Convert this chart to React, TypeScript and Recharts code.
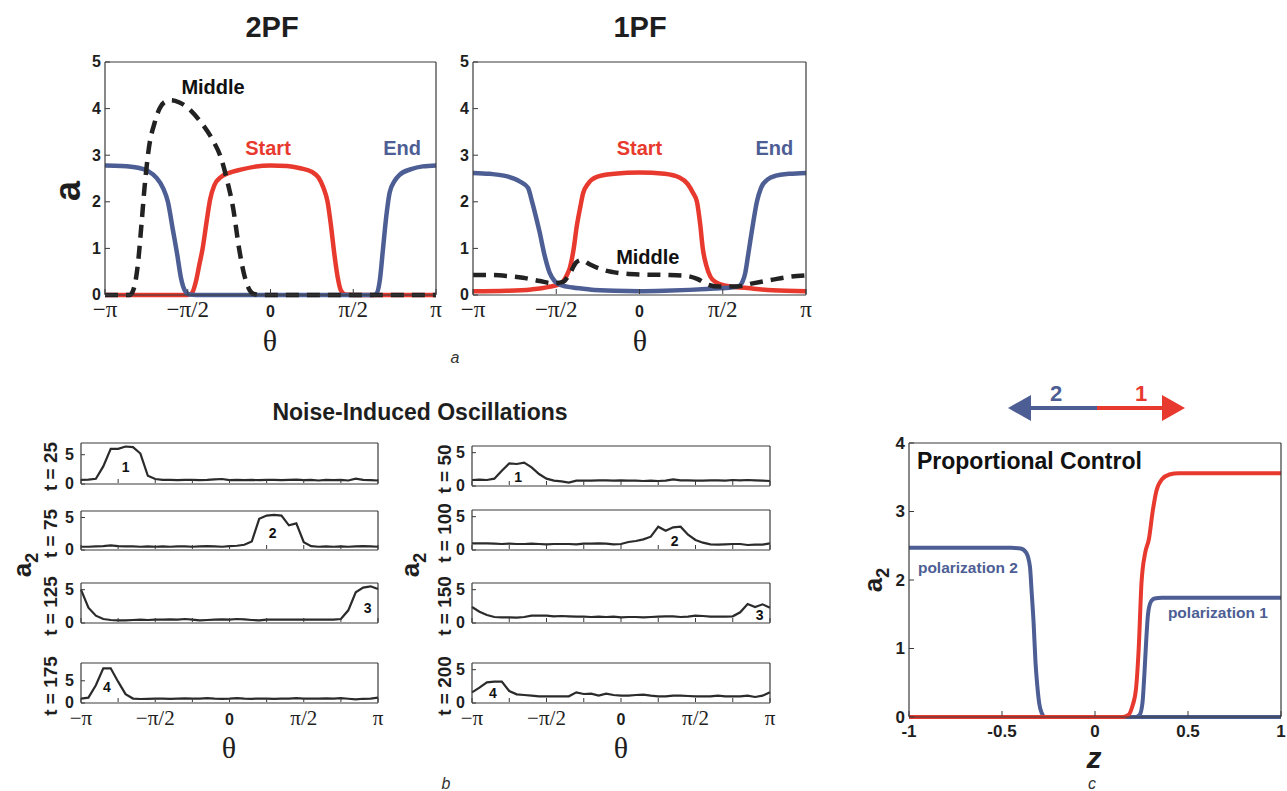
import React from "react";
import { LineChart, Line, XAxis, YAxis, ReferenceDot } from "recharts";

const RED = "#e8392e";
const BLUE = "#4d5e94";
const INK = "#1e1e1e";
const AXIS = "#3a3a3a";
const SANS = '"Liberation Sans", Arial, sans-serif';
const SERIF = '"Liberation Serif", "Times New Roman", serif';

// ---- panel a : a(theta), theta in units of pi ----
const pf2Start = [[-1, 0], [-0.5, 0], [-0.475, 0.04], [-0.45, 0.3], [-0.43, 0.65], [-0.41, 1.0], [-0.385, 1.6], [-0.365, 2.05], [-0.34, 2.35], [-0.3, 2.53], [-0.25, 2.62], [-0.18, 2.69], [-0.1, 2.75], [0, 2.78], [0.1, 2.77], [0.18, 2.72], [0.25, 2.64], [0.29, 2.52], [0.32, 2.3], [0.345, 2.0], [0.365, 1.5], [0.385, 0.9], [0.405, 0.4], [0.425, 0.1], [0.45, 0.01], [0.5, 0], [1, 0]];
const pf2End = [[-1, 2.78], [-0.9, 2.77], [-0.8, 2.73], [-0.74, 2.66], [-0.69, 2.52], [-0.65, 2.3], [-0.62, 2.0], [-0.59, 1.4], [-0.565, 0.9], [-0.54, 0.35], [-0.515, 0.08], [-0.49, 0.01], [-0.45, 0], [0.62, 0], [0.64, 0.03], [0.66, 0.3], [0.68, 1.0], [0.7, 1.7], [0.72, 2.2], [0.75, 2.45], [0.78, 2.58], [0.85, 2.7], [0.92, 2.76], [1, 2.78]];
const pf2Middle = [[-1, 0], [-0.85, 0], [-0.825, 0.15], [-0.8, 0.7], [-0.78, 1.5], [-0.76, 2.35], [-0.735, 3.15], [-0.7, 3.7], [-0.67, 4.0], [-0.64, 4.14], [-0.6, 4.18], [-0.55, 4.13], [-0.5, 4.02], [-0.43, 3.75], [-0.35, 3.33], [-0.3, 2.95], [-0.265, 2.5], [-0.225, 1.85], [-0.19, 1.0], [-0.16, 0.45], [-0.125, 0.1], [-0.1, 0.02], [-0.05, 0], [1, 0]];

const pf1Start = [[-1, 0.08], [-0.8, 0.09], [-0.65, 0.12], [-0.55, 0.17], [-0.47, 0.25], [-0.44, 0.4], [-0.417, 0.6], [-0.395, 1.0], [-0.377, 1.47], [-0.355, 1.9], [-0.339, 2.18], [-0.31, 2.38], [-0.26, 2.53], [-0.15, 2.6], [0, 2.63], [0.15, 2.6], [0.24, 2.52], [0.29, 2.38], [0.32, 2.2], [0.345, 2.0], [0.365, 1.5], [0.38, 1.0], [0.4, 0.65], [0.425, 0.4], [0.46, 0.27], [0.52, 0.2], [0.65, 0.15], [0.8, 0.1], [1, 0.08]];
const pf1End = [[-1, 2.62], [-0.9, 2.6], [-0.8, 2.55], [-0.72, 2.44], [-0.67, 2.3], [-0.645, 2.0], [-0.62, 1.65], [-0.6, 1.35], [-0.57, 0.85], [-0.54, 0.48], [-0.51, 0.3], [-0.47, 0.21], [-0.4, 0.16], [-0.3, 0.12], [-0.15, 0.09], [0, 0.08], [0.15, 0.09], [0.3, 0.11], [0.45, 0.14], [0.55, 0.16], [0.6, 0.2], [0.62, 0.3], [0.635, 0.47], [0.65, 0.8], [0.665, 1.15], [0.685, 1.6], [0.705, 2.0], [0.73, 2.3], [0.77, 2.48], [0.82, 2.56], [0.9, 2.6], [1, 2.62]];
const pf1Middle = [[-1, 0.43], [-0.9, 0.43], [-0.8, 0.41], [-0.7, 0.37], [-0.6, 0.3], [-0.52, 0.25], [-0.46, 0.28], [-0.42, 0.45], [-0.38, 0.7], [-0.35, 0.75], [-0.3, 0.66], [-0.22, 0.54], [-0.12, 0.47], [0, 0.44], [0.15, 0.43], [0.28, 0.41], [0.35, 0.34], [0.4, 0.24], [0.48, 0.18], [0.58, 0.18], [0.68, 0.25], [0.8, 0.33], [0.9, 0.39], [1, 0.42]];

// ---- panel b : noise-induced oscillations, a2 on a theta grid (units of pi) ----
const thetaGrid = [-1, -0.95, -0.9, -0.85, -0.8, -0.75, -0.7, -0.65, -0.6, -0.55, -0.5, -0.45, -0.4, -0.35, -0.3, -0.25, -0.2, -0.15, -0.1, -0.05, 0, 0.05, 0.1, 0.15, 0.2, 0.25, 0.3, 0.35, 0.4, 0.45, 0.5, 0.55, 0.6, 0.65, 0.7, 0.75, 0.8, 0.85, 0.9, 0.95, 1];
const noiseT25 = [0.7, 0.75, 0.9, 3.0, 6.0, 6.0, 6.4, 6.3, 5.2, 1.4, 0.85, 0.7, 0.7, 0.65, 0.7, 0.7, 0.65, 0.7, 0.8, 0.85, 0.65, 0.7, 0.65, 0.7, 0.65, 0.7, 0.7, 0.65, 0.7, 0.75, 0.65, 0.7, 0.6, 0.7, 0.65, 0.7, 0.6, 0.9, 0.7, 0.65, 0.6];
const noiseT75 = [0.5, 0.5, 0.55, 0.6, 0.7, 0.6, 0.55, 0.55, 0.5, 0.55, 0.5, 0.55, 0.5, 0.55, 0.55, 0.5, 0.55, 0.6, 0.55, 0.5, 0.6, 0.65, 0.8, 1.3, 4.8, 5.3, 5.4, 5.3, 3.8, 4.1, 1.2, 0.6, 0.5, 0.55, 0.5, 0.55, 0.5, 0.55, 0.6, 0.55, 0.5];
const noiseT125 = [5.0, 2.3, 1.1, 0.6, 0.45, 0.4, 0.4, 0.45, 0.5, 0.45, 0.5, 0.5, 0.55, 0.5, 0.6, 0.5, 0.4, 0.45, 0.5, 0.55, 0.5, 0.6, 0.55, 0.45, 0.4, 0.5, 0.5, 0.5, 0.5, 0.5, 0.5, 0.5, 0.5, 0.5, 0.5, 0.6, 1.9, 4.6, 5.3, 5.5, 5.1];
const noiseT175 = [1.0, 1.2, 4.0, 7.8, 7.8, 4.8, 2.0, 1.0, 0.9, 0.95, 1.0, 1.0, 0.95, 1.0, 1.05, 1.0, 1.0, 1.1, 1.0, 0.95, 1.0, 1.1, 1.0, 0.95, 1.0, 1.0, 0.95, 1.0, 1.0, 1.1, 1.0, 1.0, 1.0, 1.05, 1.0, 1.1, 0.95, 0.8, 0.95, 1.0, 1.2];
const noiseT50 = [0.9, 0.95, 0.9, 1.1, 2.3, 3.4, 3.3, 3.5, 2.8, 1.8, 1.1, 0.8, 0.7, 0.5, 0.8, 0.8, 0.8, 0.85, 0.85, 0.8, 0.85, 0.8, 0.8, 0.75, 0.8, 0.75, 0.8, 1.0, 0.85, 0.85, 0.8, 0.8, 0.85, 0.85, 0.8, 0.9, 0.85, 0.9, 0.85, 0.8, 0.75];
const noiseT100 = [1.0, 1.0, 1.0, 0.95, 0.9, 0.95, 0.9, 0.9, 0.95, 0.9, 0.85, 0.9, 0.9, 0.9, 0.85, 0.95, 0.95, 1.0, 0.95, 0.85, 0.9, 1.2, 1.35, 1.6, 2.0, 3.5, 2.9, 3.4, 3.5, 2.3, 1.5, 1.1, 0.85, 0.8, 0.85, 0.9, 0.9, 0.75, 0.8, 0.8, 1.0];
const noiseT150 = [2.4, 1.7, 1.2, 0.9, 0.85, 0.85, 0.8, 0.9, 1.1, 1.1, 1.1, 1.0, 1.05, 1.0, 0.95, 0.95, 0.9, 0.95, 0.9, 0.95, 0.85, 0.9, 0.9, 0.85, 0.9, 0.95, 1.0, 1.0, 0.9, 0.95, 1.1, 1.05, 0.95, 0.95, 0.95, 1.0, 1.6, 2.85, 2.4, 2.8, 2.3];
const noiseT200 = [1.6, 2.3, 3.1, 3.2, 3.2, 1.8, 1.3, 1.2, 1.1, 1.0, 1.0, 1.0, 1.0, 1.0, 1.6, 1.35, 1.4, 1.1, 1.4, 1.2, 1.1, 1.1, 1.2, 1.25, 1.1, 1.0, 1.0, 1.1, 1.1, 1.05, 1.0, 1.0, 1.0, 1.1, 1.0, 1.0, 1.0, 1.1, 0.9, 1.1, 1.6];

// ---- panel c : proportional control, a2(z) ----
const ctrlRed = [[-1, 0], [0.15, 0], [0.18, 0.03], [0.2, 0.15], [0.22, 0.4], [0.235, 1.0], [0.25, 1.96], [0.27, 2.4], [0.29, 2.6], [0.31, 3.0], [0.33, 3.3], [0.36, 3.47], [0.4, 3.54], [0.45, 3.56], [1, 3.56]];
const ctrlPol2 = [[-1, 2.47], [-0.45, 2.47], [-0.4, 2.46], [-0.37, 2.4], [-0.35, 2.2], [-0.34, 1.8], [-0.33, 1.37], [-0.32, 0.8], [-0.31, 0.45], [-0.3, 0.2], [-0.285, 0.05], [-0.27, 0], [1, 0]];
const ctrlPol1 = [[-1, 0], [0.22, 0], [0.24, 0.03], [0.255, 0.2], [0.265, 0.6], [0.275, 1.1], [0.285, 1.5], [0.3, 1.68], [0.32, 1.73], [0.36, 1.74], [1, 1.74]];

const xy = (pts: number[][]) => pts.map(([x, y]) => ({ x, y }));
const onGrid = (vals: number[]) => vals.map((y, i) => ({ x: thetaGrid[i], y }));

const piText: Record<string, string> = { "-1": "\u2212\u03c0", "-0.5": "\u2212\u03c0/2", "0": "0", "0.5": "\u03c0/2", "1": "\u03c0" };
const piLabel = (v: number) => piText[String(v)] ?? "";
const numLabel = (v: number) => String(v);

type Box = { x: number; y: number; w: number; h: number };
const ML = 70, MR = 14, MT = 14, MB = 60;

type PlotProps = {
  box: Box;
  xDomain: [number, number];
  xTicks: number[];
  xLabel: (v: number) => string;
  xSerif: boolean;
  xSize: number;
  xDy: number;
  yDomain: [number, number];
  yTicks: number[];
  ySize: number;
  yGap: number;
  tickLen: number;
  children?: React.ReactNode;
};

// axes are 1px thick so recharts still draws them; ticks point inward like MATLAB
function Plot(p: PlotProps) {
  const len = p.tickLen;
  const bottomTick = (t: any) => {
    const s = p.xLabel(t.payload.value);
    const serif = p.xSerif && s !== "0";
    const y0 = t.y - 1;
    return (
      <g>
        <line x1={t.x} x2={t.x} y1={y0} y2={y0 - len} stroke={AXIS} strokeWidth={1} />
        {s ? (
          <text x={t.x} y={y0 + p.xDy} textAnchor="middle" fill={INK}
            fontFamily={serif ? SERIF : SANS} fontSize={serif ? p.xSize : p.ySize}
            fontWeight={serif ? 400 : 700}>{s}</text>
        ) : null}
      </g>
    );
  };
  const topTick = (t: any) => <line x1={t.x} x2={t.x} y1={t.y} y2={t.y + len} stroke={AXIS} strokeWidth={1} />;
  const leftTick = (t: any) => (
    <g>
      <line x1={t.x} x2={t.x + len} y1={t.y} y2={t.y} stroke={AXIS} strokeWidth={1} />
      <text x={t.x - p.yGap} y={t.y} dy="0.34em" textAnchor="end" fill={INK}
        fontFamily={SANS} fontSize={p.ySize} fontWeight={700}>{t.payload.value}</text>
    </g>
  );
  const rightTick = (t: any) => <line x1={t.x} x2={t.x - len} y1={t.y} y2={t.y} stroke={AXIS} strokeWidth={1} />;
  const line = { stroke: AXIS, strokeWidth: 1.2 };
  return (
    <div style={{ position: "absolute", left: p.box.x - ML, top: p.box.y - MT }}>
      <LineChart width={p.box.w + ML + MR} height={p.box.h + MT + MB}
        margin={{ top: MT - 1, right: MR - 1, bottom: MB - 1, left: ML - 1 }}>
        <XAxis dataKey="x" type="number" domain={p.xDomain} ticks={p.xTicks} interval={0}
          height={1} tickSize={0} tickMargin={0} tickLine={false} axisLine={line} tick={bottomTick} />
        <XAxis xAxisId="top" orientation="top" dataKey="x" type="number" domain={p.xDomain} ticks={p.xTicks}
          interval={0} height={1} tickSize={0} tickMargin={0} tickLine={false} axisLine={line} tick={topTick} />
        <YAxis type="number" domain={p.yDomain} ticks={p.yTicks} interval={0}
          width={1} tickSize={0} tickMargin={0} tickLine={false} axisLine={line} tick={leftTick} />
        <YAxis yAxisId="right" orientation="right" type="number" domain={p.yDomain} ticks={p.yTicks}
          interval={0} width={1} tickSize={0} tickMargin={0} tickLine={false} axisLine={line} tick={rightTick} />
        {p.children}
      </LineChart>
    </div>
  );
}

const tag = (text: string, color: string, size: number, anchor: "start" | "middle" = "middle") =>
  (props: any) => {
    const vb = props.viewBox || {};
    return (
      <text x={vb.x} y={vb.y} dy="0.36em" textAnchor={anchor} fill={color}
        fontFamily={SANS} fontSize={size} fontWeight={700}>{text}</text>
    );
  };

const Note = ({ x, y, text, color, size, anchor }: any) => (
  <ReferenceDot x={x} y={y} r={0} fill="none" stroke="none" ifOverflow="visible"
    label={tag(text, color, size, anchor)} />
);

const A1: Box = { x: 105, y: 62, w: 331, h: 233 };
const A2: Box = { x: 473, y: 62, w: 333, h: 233 };
const C: Box = { x: 909, y: 443, w: 372, h: 274 };

const piTicks = [-1, -0.5, 0, 0.5, 1];
const piQuarterTicks = [-1, -0.75, -0.5, -0.25, 0, 0.25, 0.5, 0.75, 1];

const rowsB = [
  { t: "t = 25", vals: noiseT25, top: 7, num: "1", at: [-0.7, 2.9], box: { x: 81, y: 443, w: 297, h: 41 } },
  { t: "t = 75", vals: noiseT75, top: 6, num: "2", at: [0.29, 2.6], box: { x: 81, y: 511, w: 297, h: 39 } },
  { t: "t = 125", vals: noiseT125, top: 6, num: "3", at: [0.93, 2.25], box: { x: 81, y: 583, w: 297, h: 40 } },
  { t: "t = 175", vals: noiseT175, top: 9, num: "4", at: [-0.825, 3.6], box: { x: 81, y: 663, w: 297, h: 40 } },
  { t: "t = 50", vals: noiseT50, top: 6, num: "1", at: [-0.69, 1.4], box: { x: 472, y: 446, w: 298, h: 40 } },
  { t: "t = 100", vals: noiseT100, top: 6, num: "2", at: [0.36, 1.4], box: { x: 472, y: 510, w: 298, h: 40 } },
  { t: "t = 150", vals: noiseT150, top: 6, num: "3", at: [0.93, 1.2], box: { x: 472, y: 583, w: 298, h: 40 } },
  { t: "t = 200", vals: noiseT200, top: 6, num: "4", at: [-0.86, 1.5], box: { x: 472, y: 663, w: 298, h: 40 } },
];

const thick = { dot: false, isAnimationActive: false, type: "monotone" as const, dataKey: "y" };

export default function App() {
  return (
    <div style={{ position: "absolute", left: 0, top: 0, width: 1287, height: 791, background: "#fff", overflow: "hidden" }}>
      {[{ box: A1, s: pf2Start, e: pf2End, m: pf2Middle, mid: [-0.347, 4.46] }, { box: A2, s: pf1Start, e: pf1End, m: pf1Middle, mid: [0.05, 0.82] }].map((pan, k) => (
        <Plot key={k} box={pan.box} xDomain={[-1, 1]} xTicks={piTicks} xLabel={piLabel} xSerif xSize={23} xDy={23}
          yDomain={[0, 5]} yTicks={[0, 1, 2, 3, 4, 5]} ySize={16} yGap={4} tickLen={5}>
          <Line {...thick} data={xy(pan.s)} stroke={RED} strokeWidth={4.5} />
          <Line {...thick} data={xy(pan.e)} stroke={BLUE} strokeWidth={4.5} />
          <Line {...thick} data={xy(pan.m)} stroke="#222" strokeWidth={4.5} strokeDasharray="13 8" />
          <Note x={pan.mid[0]} y={pan.mid[1]} text="Middle" color="#111" size={20} />
          <Note x={k === 0 ? -0.015 : 0} y={3.15} text="Start" color={RED} size={20} />
          <Note x={k === 0 ? 0.795 : 0.81} y={3.15} text="End" color={BLUE} size={20} />
        </Plot>
      ))}

      {rowsB.map((r, i) => (
        <Plot key={"b" + i} box={r.box} xDomain={[-1, 1]} xTicks={piQuarterTicks}
          xLabel={i % 4 === 3 ? piLabel : () => ""} xSerif xSize={21} xDy={23}
          yDomain={[0, r.top]} yTicks={[0, 5]} ySize={16} yGap={7} tickLen={4}>
          <Line dataKey="y" data={onGrid(r.vals)} type="linear" stroke="#2b2b2b" strokeWidth={2.2}
            dot={false} isAnimationActive={false} />
          <Note x={r.at[0]} y={r.at[1]} text={r.num} color="#111" size={14} />
        </Plot>
      ))}

      <Plot box={C} xDomain={[-1, 1]} xTicks={[-1, -0.5, 0, 0.5, 1]} xLabel={numLabel} xSerif={false} xSize={17} xDy={21}
        yDomain={[0, 4]} yTicks={[0, 1, 2, 3, 4]} ySize={17} yGap={4} tickLen={5}>
        <Line {...thick} data={xy(ctrlPol2)} stroke={BLUE} strokeWidth={4} />
        <Line {...thick} data={xy(ctrlPol1)} stroke={BLUE} strokeWidth={4} />
        <Line {...thick} data={xy(ctrlRed)} stroke={RED} strokeWidth={4} />
        <Note x={-0.957} y={3.74} text="Proportional Control" color="#111" size={23} anchor="start" />
        <Note x={-0.952} y={2.19} text="polarization 2" color={BLUE} size={15.5} anchor="start" />
        <Note x={0.392} y={1.52} text="polarization 1" color={BLUE} size={15.5} anchor="start" />
      </Plot>

      <svg width={1287} height={791} style={{ position: "absolute", left: 0, top: 0, pointerEvents: "none" }}>
        <g fontFamily={SANS} fontWeight={700} fill={INK} textAnchor="middle">
          <text x={272} y={27} dy="0.36em" fontSize={29}>2PF</text>
          <text x={640} y={27} dy="0.36em" fontSize={29}>1PF</text>
          <text x={0} y={0} dy="0.36em" fontSize={36} transform="translate(67,191) rotate(-90)">a</text>
          <text x={420} y={412} dy="0.36em" fontSize={23}>Noise-Induced Oscillations</text>
          {[{ x: 22, y: 565 }, { x: 410, y: 565 }, { x: 873, y: 580 }].map((q, i) => (
            <text key={i} x={0} y={0} dy="0.36em" fontSize={26} transform={`translate(${q.x},${q.y}) rotate(-90)`}>
              a<tspan fontSize={18} dy={7}>2</tspan>
            </text>
          ))}
          {rowsB.map((r, i) => (
            <text key={"t" + i} x={0} y={0} dy="0.36em" fontSize={19}
              transform={`translate(${i < 4 ? 50 : 444},${r.box.y + r.box.h / 2 + 3}) rotate(-90)`}>{r.t}</text>
          ))}
          <text x={1094} y={757} dy="0.36em" fontSize={30} fontStyle="italic">z</text>
          <text x={1056} y={393} dy="0.36em" fontSize={22} fill={BLUE}>2</text>
          <text x={1141} y={393} dy="0.36em" fontSize={22} fill={RED}>1</text>
        </g>
        <g fontFamily={SERIF} fill={INK} textAnchor="middle" fontSize={30}>
          <text x={270} y={340} dy="0.36em">{"\u03b8"}</text>
          <text x={640} y={340} dy="0.36em">{"\u03b8"}</text>
          <text x={229} y={747} dy="0.36em">{"\u03b8"}</text>
          <text x={621} y={747} dy="0.36em">{"\u03b8"}</text>
        </g>
        <g fontFamily={SANS} fontStyle="italic" fill="#333" textAnchor="middle" fontSize={16}>
          <text x={455} y={357} dy="0.36em">a</text>
          <text x={446} y={783} dy="0.36em">b</text>
          <text x={1092} y={783} dy="0.36em">c</text>
        </g>
        <line x1={1026} x2={1097} y1={408} y2={408} stroke={BLUE} strokeWidth={4} />
        <polygon points="1008,408 1031,395 1031,421" fill={BLUE} />
        <line x1={1097} x2={1166} y1={408} y2={408} stroke={RED} strokeWidth={4} />
        <polygon points="1185,408 1162,395 1162,421" fill={RED} />
      </svg>
    </div>
  );
}
